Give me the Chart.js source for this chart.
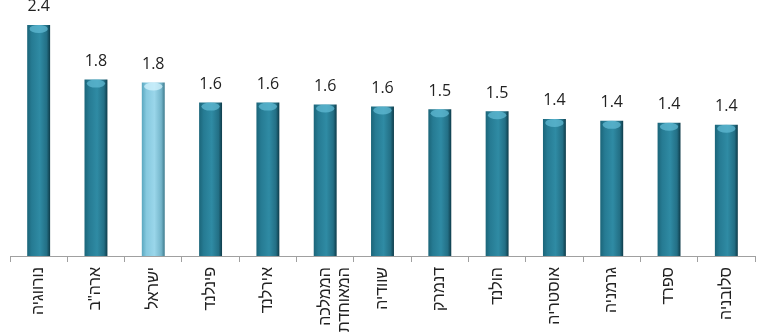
<!DOCTYPE html>
<html>
<head>
<meta charset="utf-8">
<script src="https://cdn.jsdelivr.net/npm/chart.js@4"></script>
<style>
  body { margin: 0; background: #fff; }
  #wrap { width: 758px; height: 334px; }
</style>
</head>
<body>
<div id="wrap"><canvas id="myChart"></canvas></div>
<script>
// countries (right-to-left order as in the original)
var countries = ['נורווגיה', 'ארה"ב', 'ישראל', 'פינלנד', 'אירלנד', ['הממלכה', 'המאוחדת'], 'שוודיה', 'דנמרק', 'הולנד', 'אוסטריה', 'גרמניה', 'ספרד', 'סלובניה'];
var values = [2.41, 1.84, 1.81, 1.60, 1.60, 1.58, 1.56, 1.53, 1.51, 1.43, 1.41, 1.39, 1.37];
var highlightIndex = 2; // Israel

// gradient for the "cylinder" look of each bar
function barColor(ctx) {
    var chart = ctx.chart;
    var x = chart.scales.x;
    if (!x || !chart.chartArea) return '#2a8099';
    var center = x.getPixelForValue(ctx.dataIndex);
    var half = (x.width / countries.length) * 0.4 / 2;
    var g = chart.ctx.createLinearGradient(center - half, 0, center + half, 0);
    if (ctx.dataIndex === highlightIndex) {
        g.addColorStop(0, '#5aa7bf');
        g.addColorStop(0.2, '#86c9df');
        g.addColorStop(0.55, '#9ad6ea');
        g.addColorStop(0.85, '#74b5ca');
        g.addColorStop(1, '#3e7b8e');
    } else {
        g.addColorStop(0, '#1b6579');
        g.addColorStop(0.2, '#267b93');
        g.addColorStop(0.55, '#2f8ba4');
        g.addColorStop(0.85, '#236f85');
        g.addColorStop(1, '#0e3b49');
    }
    return g;
}

// light cap at the top of each bar + value labels above
var barExtras = {
    id: 'barExtras',
    afterDatasetsDraw: function(chart) {
        var c = chart.ctx;
        chart.getDatasetMeta(0).data.forEach(function(bar, i) {
            var w = bar.width;
            c.save();
            c.fillStyle = i === highlightIndex ? 'rgba(215,245,255,0.7)' : 'rgba(100,190,215,0.7)';
            c.beginPath();
            c.ellipse(bar.x, bar.y + 4, w * 0.4, 4, 0, 0, Math.PI * 2);
            c.fill();
            c.restore();

            c.save();
            c.fillStyle = '#222';
            c.font = '16px "Open Sans", sans-serif';
            c.textAlign = 'center';
            c.textBaseline = 'middle';
            c.fillText(values[i].toFixed(1), bar.x, bar.y - 18);
            c.restore();
        });
    }
};

var ctx = document.getElementById('myChart').getContext('2d');
window.barChart = new Chart(ctx, {
    type: 'bar',
    data: {
        labels: countries,
        datasets: [{
            data: values,
            backgroundColor: barColor,
            borderWidth: 0,
            barPercentage: 0.4,
            categoryPercentage: 1
        }]
    },
    options: {
        responsive: true,
        maintainAspectRatio: false,
        animation: false,
        layout: { padding: { left: 10, right: 3, top: 0, bottom: 0 } },
        plugins: {
            legend: { display: false },
            tooltip: { enabled: false }
        },
        scales: {
            y: { display: false, min: 0, max: 2.67 },
            x: {
                grid: { drawOnChartArea: false, tickLength: 6, color: '#a0a0a0' },
                border: { color: '#a0a0a0' },
                ticks: {
                    autoSkip: false,
                    minRotation: 90,
                    maxRotation: 90,
                    padding: 5,
                    color: '#222',
                    font: { family: '"Liberation Sans", Arial, sans-serif', size: 16 }
                },
                afterFit: function(scale) { scale.height = 78; }
            }
        }
    },
    plugins: [barExtras]
});
</script>
</body>
</html>
